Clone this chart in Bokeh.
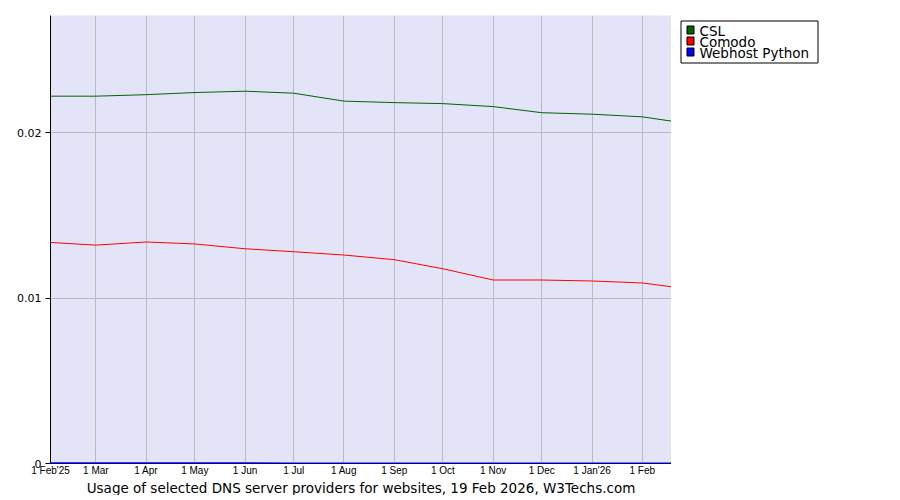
import pandas as pd
from bokeh.plotting import figure
from bokeh.layouts import row
from bokeh.models import (Range1d, FixedTicker, Title, LinearAxis, ColumnDataSource)
from bokeh.core.properties import value
from bokeh.embed import file_html
from bokeh.resources import INLINE

# ---- data ----
dates = ["2025-02-01", "2025-03-01", "2025-04-01", "2025-05-01", "2025-06-01",
         "2025-07-01", "2025-08-01", "2025-09-01", "2025-10-01", "2025-11-01",
         "2025-12-01", "2026-01-01", "2026-02-01", "2026-02-19"]
csl = [0.02222, 0.02222, 0.02231, 0.02244, 0.02252, 0.02240, 0.02192, 0.02183,
       0.02177, 0.02159, 0.02122, 0.02113, 0.02097, 0.02071]
comodo = [0.01337, 0.01321, 0.01340, 0.01328, 0.01299, 0.01281, 0.01261,
          0.01233, 0.01178, 0.01110, 0.01110, 0.01104, 0.01092, 0.01069]
webhost = [0.00002, 0.00002, 0.00002, 0.00002, 0.00002, 0.0, 0.0, 0.0, 0.0,
           0.0, 0.0, 0.0, 0.0, 0.0]
tick_dates = ["2025-02-01", "2025-03-01", "2025-04-01", "2025-05-01", "2025-06-01",
              "2025-07-01", "2025-08-01", "2025-09-01", "2025-10-01", "2025-11-01",
              "2025-12-01", "2026-01-01", "2026-02-01"]
tick_labels = ["1 Feb'25", "1 Mar", "1 Apr", "1 May", "1 Jun", "1 Jul", "1 Aug",
               "1 Sep", "1 Oct", "1 Nov", "1 Dec", "1 Jan'26", "1 Feb"]
y_ticks = [0, 0.01, 0.02]
y_tick_labels = ["0", "0.01", "0.02"]
series_names = ["CSL", "Comodo", "Webhost Python"]
series_colors = ["#006400", "#ff0000", "#0000ff"]
title_text = "Usage of selected DNS server providers for websites, 19 Feb 2026, W3Techs.com"

x = pd.to_datetime(dates)
src = ColumnDataSource(dict(x=x, csl=csl, comodo=comodo, webhost=webhost))

x_start = pd.Timestamp("2025-02-01")
x_end = pd.Timestamp("2026-02-19")

H = 495

p = figure(width=671, height=H, x_axis_type="datetime",
           output_backend="svg", toolbar_location=None,
           x_range=Range1d(x_start, x_end),
           y_range=Range1d(0, 0.0271),
           min_border_left=50, min_border_right=0, min_border_top=15,
           min_border_bottom=0, border_fill_color="white")
p.background_fill_color = "#e4e4f8"
p.outline_line_color = None

def ms(d):
    return int(pd.Timestamp(d).value // 10**6)

tick_ms = [ms(d) for d in tick_dates]
p.xaxis.ticker = FixedTicker(ticks=tick_ms)
p.xaxis.major_label_overrides = {t: l for t, l in zip(tick_ms, tick_labels)}
p.xaxis.major_tick_out = 0
p.xaxis.major_tick_in = 0
p.xaxis.minor_tick_out = 0
p.xaxis.minor_tick_in = 0
p.xaxis.major_label_standoff = 1
p.xaxis.major_label_text_font = "Liberation Sans"
p.xaxis.major_label_text_font_size = "10px"
p.xaxis.major_label_text_color = "black"
p.xaxis.axis_line_color = "#000080"

p.yaxis.ticker = FixedTicker(ticks=y_ticks)
p.yaxis.major_label_overrides = {t: l for t, l in zip(y_ticks, y_tick_labels)}
p.yaxis.minor_tick_out = 0
p.yaxis.minor_tick_in = 0
p.yaxis.major_tick_out = 5
p.yaxis.major_tick_in = 0
p.yaxis.major_label_standoff = 4
p.yaxis.major_label_text_font = "DejaVu Sans"
p.yaxis.major_label_text_font_size = "11px"
p.yaxis.major_label_text_color = "black"
p.yaxis.axis_line_color = "black"

p.xgrid.grid_line_color = "#bbbbbb"
p.ygrid.grid_line_color = "#bbbbbb"

p.line("x", "csl", source=src, line_color=series_colors[0], line_width=1)
p.line("x", "comodo", source=src, line_color=series_colors[1], line_width=1)
p.line("x", "webhost", source=src, line_color=series_colors[2], line_width=2)

right_axis = LinearAxis(major_tick_out=0, major_tick_in=0, minor_tick_out=0,
                        minor_tick_in=0, major_label_text_font_size="0px",
                        axis_line_color="black", ticker=FixedTicker(ticks=[]))
p.add_layout(right_axis, "right")

title = Title(text=title_text, align="center", vertical_align="bottom",
              text_font="DejaVu Sans", text_font_size="13.5px",
              text_font_style="normal", text_color="black",
              standoff=-1, offset=0)
p.add_layout(title, "below")

# ---- legend panel (its frame is aligned with the main frame: page y 15..463) ----
LW = 213
lg = figure(width=LW, height=H, output_backend="svg", toolbar_location=None,
            x_range=Range1d(0, LW), y_range=Range1d(463, 15),
            min_border=0, outline_line_color=None)
lg.axis.visible = False
lg.grid.visible = False
lg.background_fill_color = "white"

row_y = [30 + 11 * i for i in range(len(series_names))]
lg.quad(left=[9.5], right=[146.5], top=[20.5], bottom=[62.5],
        fill_color="white", line_color="black", line_width=1)
lg.quad(left=[15.5] * len(row_y), right=[22.5] * len(row_y),
        top=[yc - 4.5 for yc in row_y], bottom=[yc + 3.5 for yc in row_y],
        fill_color=series_colors, line_color="black", line_width=1)
lg.text(x=[28] * len(row_y), y=row_y, text=series_names,
        text_font=value("DejaVu Sans"), text_font_size="13.5px",
        text_baseline="middle", text_align="left", text_color="black")

layout = row(p, lg, spacing=0)
open("out.html", "w").write(file_html(layout, INLINE))
